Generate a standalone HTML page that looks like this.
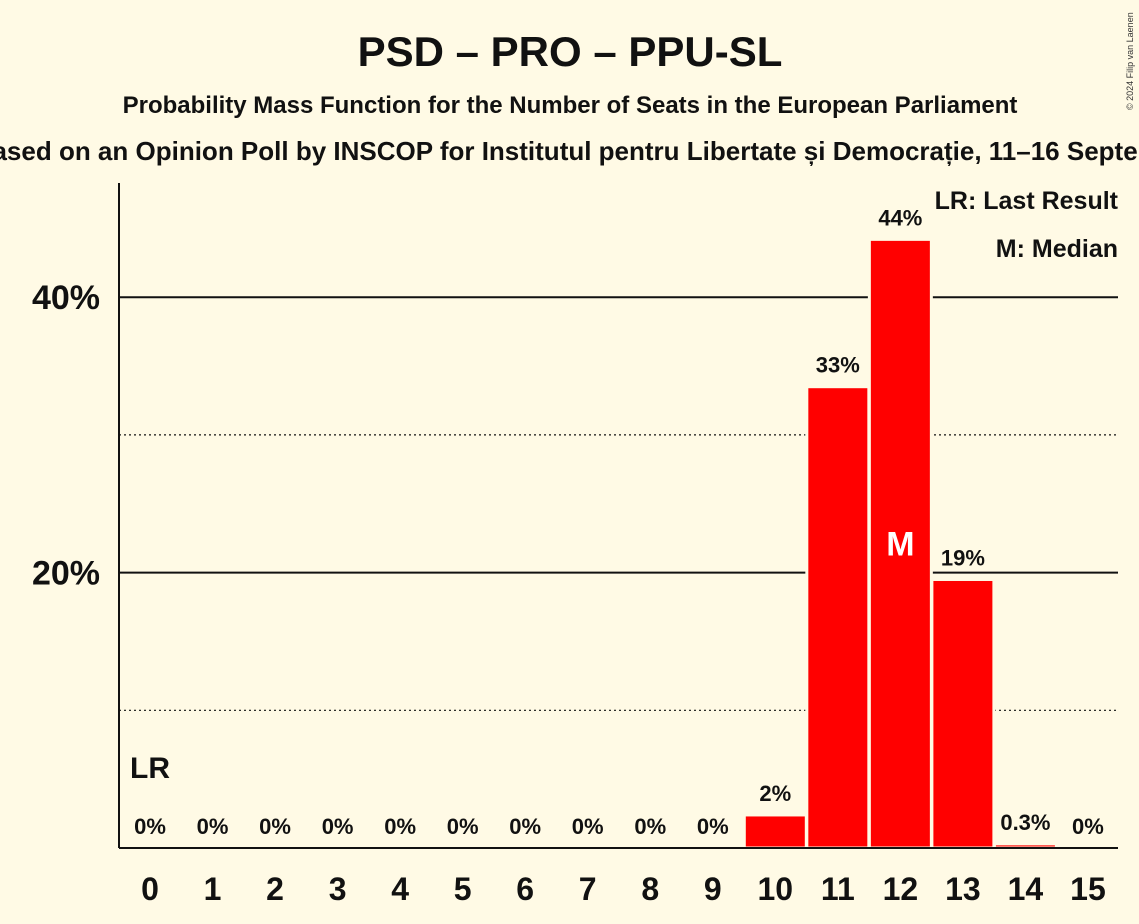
<!DOCTYPE html>
<html><head><meta charset="utf-8"><style>
body{margin:0;background:#FFFAE5;}
svg{display:block;font-family:"Liberation Sans",sans-serif;}
</style></head><body>
<svg width="1139" height="924" viewBox="0 0 1139 924">
<rect width="1139" height="924" fill="#FFFAE5"/>
<text x="570" y="66" text-anchor="middle" font-size="42" font-weight="bold" fill="#111">PSD – PRO – PPU-SL</text>
<text x="570" y="113" text-anchor="middle" font-size="24" font-weight="bold" fill="#111">Probability Mass Function for the Number of Seats in the European Parliament</text>
<text x="620" y="160" text-anchor="middle" font-size="26" font-weight="bold" fill="#111">Based on an Opinion Poll by INSCOP for Institutul pentru Libertate și Democrație, 11–16 September 2024</text>
<text x="1133" y="110" font-size="9" fill="#333" transform="rotate(-90 1133 110)">© 2024 Filip van Laenen</text>
<g id="grid"></g>
<g id="bars"></g>
<line x1="119" y1="183" x2="119" y2="848" stroke="#111" stroke-width="2"/>
<line x1="119" y1="848" x2="1118" y2="848" stroke="#111" stroke-width="2"/>
<text x="1118" y="209" text-anchor="end" font-size="25" font-weight="bold" fill="#111">LR: Last Result</text>
<text x="1118" y="257" text-anchor="end" font-size="25" font-weight="bold" fill="#111">M: Median</text>
<g id="labels"></g>
</svg>
<script>
const seats=[0,1,2,3,4,5,6,7,8,9,10,11,12,13,14,15];
const probs=[0,0,0,0,0,0,0,0,0,0,2.4,33.5,44.2,19.5,0.3,0];
const valueLabels=["0%","0%","0%","0%","0%","0%","0%","0%","0%","0%","2%","33%","44%","19%","0.3%","0%"];
const yTicks=[10,20,30,40];
const yTickLabels=["","20%","","40%"];
const medianSeat=12, lastResultSeat=0;
const NS="http://www.w3.org/2000/svg";
const y=v=>848-v*13.77;
const x=s=>150+s*62.53;
const grid=document.getElementById('grid'),bars=document.getElementById('bars'),labels=document.getElementById('labels');
function mk(tag,attrs,parent){const e=document.createElementNS(NS,tag);for(const k in attrs)e.setAttribute(k,attrs[k]);parent.appendChild(e);return e;}
yTicks.forEach((t,i)=>{
 const l=mk('line',{x1:119,x2:1118,y1:y(t),y2:y(t),stroke:'#111','stroke-width':yTickLabels[i]?2:1.2,'stroke-dasharray':yTickLabels[i]?'':'2,3'},grid);
 
 
 if(yTickLabels[i]){const tx=mk('text',{x:100,y:y(t)+12,'text-anchor':'end','font-size':34,'font-weight':'bold',fill:'#111'},labels);tx.textContent=yTickLabels[i];
 
 }
});
seats.forEach((s,i)=>{
 const v=probs[i];
 if(v>0){const r=mk('rect',{x:x(s)-31,y:y(v),width:62,height:848-y(v),fill:'#FF0000',stroke:'#FFFAE5','stroke-width':3},bars);
 
 }
 const lt=mk('text',{x:x(s),y:(v>0?y(v)-14:834),'text-anchor':'middle','font-size':22,'font-weight':'bold',fill:'#111'},labels);
 lt.textContent=valueLabels[i];
 
 
 const xt=mk('text',{x:x(s),y:900,'text-anchor':'middle','font-size':32,'font-weight':'bold',fill:'#111'},labels);
 xt.textContent=s;
 
 
});
const m=mk('text',{x:x(medianSeat),y:y(probs[medianSeat]/2)+12,'text-anchor':'middle','font-size':34,'font-weight':'bold',fill:'#fff'},labels);
m.textContent='M';


const lr=mk('text',{x:x(lastResultSeat),y:778,'text-anchor':'middle','font-size':30,'font-weight':'bold',fill:'#111'},labels);
lr.textContent='LR';


</script>
</body></html>
